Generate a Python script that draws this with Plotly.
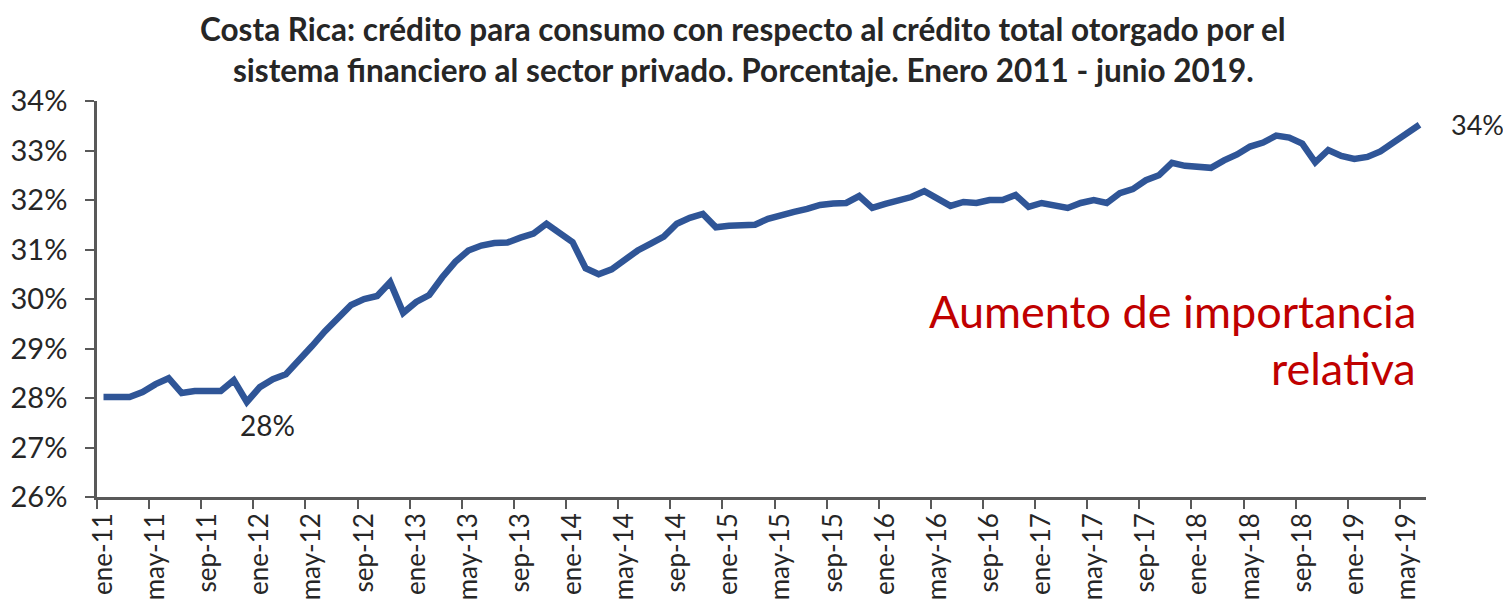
import plotly.graph_objects as go

months = ["ene", "feb", "mar", "abr", "may", "jun", "jul", "ago", "sep", "oct", "nov", "dic"]
years = ["11", "12", "13", "14", "15", "16", "17", "18", "19"]
categories = [f"{m}-{y}" for y in years for m in months][:102]

v2011 = [28.02, 28.02, 28.02, 28.12, 28.28, 28.40, 28.10, 28.14, 28.14, 28.14, 28.36, 27.92]
v2012 = [28.22, 28.38, 28.48, 28.75, 29.05, 29.35, 29.62, 29.88, 30.00, 30.06, 30.34, 29.72]
v2013 = [29.94, 30.08, 30.44, 30.75, 30.98, 31.08, 31.13, 31.14, 31.24, 31.32, 31.52, 31.35]
v2014 = [31.15, 30.62, 30.50, 30.60, 30.78, 30.98, 31.12, 31.26, 31.52, 31.64, 31.72, 31.45]
v2015 = [31.48, 31.50, 31.50, 31.62, 31.70, 31.76, 31.82, 31.90, 31.93, 31.94, 32.08, 31.84]
v2016 = [31.92, 32.00, 32.06, 32.18, 32.04, 31.88, 31.96, 31.94, 32.00, 32.00, 32.10, 31.86]
v2017 = [31.94, 31.90, 31.84, 31.94, 32.00, 31.94, 32.14, 32.22, 32.40, 32.50, 32.75, 32.69]
v2018 = [32.66, 32.65, 32.80, 32.92, 33.08, 33.16, 33.30, 33.26, 33.14, 32.76, 33.01, 32.89]
v2019 = [32.83, 32.87, 32.98, 33.16, 33.36, 33.52]
values = v2011 + v2012 + v2013 + v2014 + v2015 + v2016 + v2017 + v2018 + v2019

y_ticks = [26, 27, 28, 29, 30, 31, 32, 33, 34]
y_ticklabels = [f"{t}%" for t in y_ticks]

title_lines = [
    "Costa Rica: crédito para consumo con respecto al crédito total otorgado por el",
    "sistema financiero al sector privado. Porcentaje. Enero 2011 - junio 2019.",
]
note_lines = ["Aumento de importancia", "relativa"]
label_min = "28%"
label_last = "34%"

FONT = "Lato"
TXT = "#262626"
AX = "#595959"

# page has an 8px body margin; figure is sized so the plot area lands where the reference has it
W, H = 1503, 597
L, T, PW, PH = 89, 93, 1329, 396

x_idx = list(range(len(values)))
tick_idx = x_idx[::4]

fig = go.Figure()
fig.add_trace(go.Scatter(
    x=x_idx, y=values, mode="lines",
    line=dict(color="#2F5597", width=6.5),
    hoverinfo="skip", showlegend=False,
))

fig.update_layout(
    width=W, height=H,
    margin=dict(l=L, r=W - L - PW, t=T, b=H - T - PH, autoexpand=False),
    paper_bgcolor="white", plot_bgcolor="white",
    font=dict(family=FONT, color=TXT),
    showlegend=False,
    xaxis=dict(
        range=[-0.5, len(values) - 0.5],
        tickmode="array", tickvals=[x_idx[i] for i in tick_idx],
        ticktext=[categories[i] for i in tick_idx],
        tickangle=-90, ticks="", tickfont=dict(size=26, family=FONT, color=TXT),
        ticklabelstandoff=3,
        showgrid=False, zeroline=False,
        showline=True, linecolor=AX, linewidth=2.5,
        minor=dict(tickmode="linear", tick0=-0.5, dtick=4, ticks="outside",
                   ticklen=9, tickwidth=2, tickcolor=AX, showgrid=False),
        automargin=False,
    ),
    yaxis=dict(
        range=[26, 34], tickmode="array", tickvals=y_ticks, ticktext=y_ticklabels,
        ticks="outside", ticklen=9, tickwidth=2, tickcolor=AX,
        tickfont=dict(size=29, family=FONT, color=TXT),
        ticklabelstandoff=12,
        showgrid=False, zeroline=False,
        showline=True, linecolor=AX, linewidth=2.5,
        automargin=False,
    ),
)

def px_to_paper_x(px):
    return (px - 8 - L) / PW

def px_to_paper_y(py):
    return (T + PH - (py - 8)) / PH

# title as two lines
fig.add_annotation(text=f"<b>{title_lines[0]}</b>", xref="paper", yref="paper",
                   x=px_to_paper_x(743), y=px_to_paper_y(29), xanchor="center", yanchor="middle",
                   showarrow=False, font=dict(size=31.5, family=FONT, color=TXT))
fig.add_annotation(text=f"<b>{title_lines[1]}</b>", xref="paper", yref="paper",
                   x=px_to_paper_x(743), y=px_to_paper_y(70), xanchor="center", yanchor="middle",
                   showarrow=False, font=dict(size=31.5, family=FONT, color=TXT))

# value labels
fig.add_annotation(text=label_min, x=categories.index("dic-11"), y=values[11],
                   xanchor="center", yanchor="top", yshift=-4, xshift=21,
                   showarrow=False, font=dict(size=28, family=FONT, color=TXT))
fig.add_annotation(text=label_last, x=len(values) - 1, y=values[-1],
                   xanchor="left", yanchor="middle", xshift=30,
                   showarrow=False, font=dict(size=27, family=FONT, color=TXT))

# note
fig.add_annotation(text=note_lines[0], xref="paper", yref="paper",
                   x=px_to_paper_x(1418), y=px_to_paper_y(311), xanchor="right", yanchor="middle",
                   showarrow=False, font=dict(size=45, family=FONT, color="#C00000"))
fig.add_annotation(text=note_lines[1], xref="paper", yref="paper",
                   x=px_to_paper_x(1418), y=px_to_paper_y(368), xanchor="right", yanchor="middle",
                   showarrow=False, font=dict(size=45, family=FONT, color="#C00000"))

fig.write_html("out.html")
